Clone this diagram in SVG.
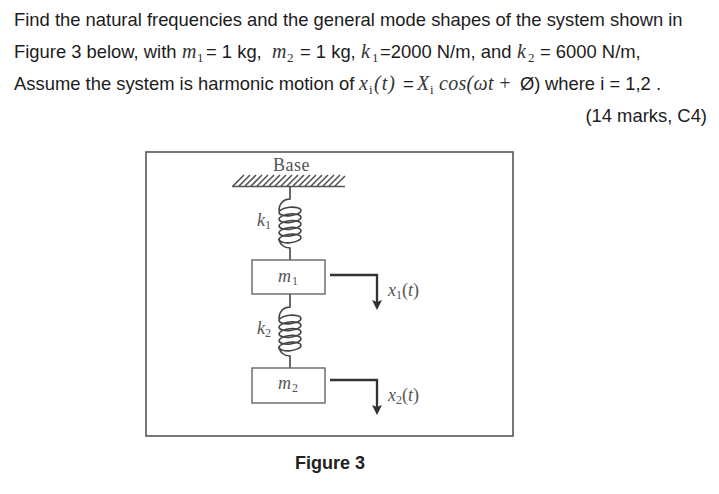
<svg xmlns="http://www.w3.org/2000/svg" width="719" height="494" viewBox="0 0 719 494">
<style>
.t{font-family:"Liberation Sans",Arial,sans-serif;font-size:18.4px;fill:#1c1c1c}
.m{font-family:"Liberation Serif","Times New Roman",serif;font-style:italic;font-size:20px;fill:#333}
.s{font-family:"Liberation Serif","Times New Roman",serif;font-size:13px;fill:#333}
.d{font-family:"Liberation Serif","Times New Roman",serif;fill:#555;font-size:18px}
.di{font-style:italic}
.ds{font-size:12px;font-style:normal}
.ln{fill:none;stroke:#333;stroke-width:2.3}
.box{fill:#fff;stroke:#666;stroke-width:1.4}
.coil{fill:none;stroke:#444;stroke-width:1.6}
.h{stroke:#555;stroke-width:1.6}
</style>
<defs>
<marker id="a" markerUnits="userSpaceOnUse" markerWidth="11" markerHeight="11" refX="5" refY="5" orient="auto"><path d="M0 0L10 5L0 10L2 5Z" fill="#333"/></marker>
<g id="spring"><path class="coil" d="M0 0V13C-6 13 -11 17 -11 25M-11 52C-11 58 -6 62 0 62V74"/>
<g transform="translate(0 25.500) rotate(-6)"><ellipse class="coil" rx="11" ry="4.200"/></g><g transform="translate(0 32.250) rotate(-6)"><ellipse class="coil" rx="11" ry="4.200"/></g><g transform="translate(0 39) rotate(-6)"><ellipse class="coil" rx="11" ry="4.200"/></g><g transform="translate(0 45.750) rotate(-6)"><ellipse class="coil" rx="11" ry="4.200"/></g><g transform="translate(0 52.500) rotate(-6)"><ellipse class="coil" rx="11" ry="4.200"/></g></g>
</defs>
<rect width="719" height="494" fill="#fff"/>
<text class="t" x="14" y="26">Find the natural frequencies and the general mode shapes of the system shown in</text>
<text class="t" x="14" y="58">Figure 3 below, with</text>
<text class="m" x="182" y="58">m</text><text class="s" x="197" y="62">1</text>
<text class="t" x="206" y="58">= 1 kg,</text>
<text class="m" x="272" y="58">m</text><text class="s" x="287" y="62">2</text>
<text class="t" x="300" y="58">= 1 kg,</text>
<text class="m" x="361" y="58">k</text><text class="s" x="372" y="62">1</text>
<text class="t" x="380" y="58">=2000 N/m, and</text>
<text class="m" x="517" y="58">k</text><text class="s" x="528" y="62">2</text>
<text class="t" x="540" y="58">= 6000 N/m,</text>
<text class="t" x="14" y="90">Assume the system is harmonic motion of</text>
<text class="m" x="359" y="90">x</text><text class="s" x="369" y="94">i</text>
<text class="m" x="374" y="90" letter-spacing="1">(t)</text>
<text class="t" x="403" y="90">=</text>
<text class="m" x="417" y="90">X</text><text class="s" x="430" y="94">i</text>
<text class="m" x="439" y="90" letter-spacing=".3">cos(ωt</text>
<text class="m" x="498" y="90" font-style="normal">+</text>
<text class="t" x="520" y="90">Ø)</text>
<text class="t" x="545" y="90" font-size="18">where i = 1,2 .</text>
<text class="t" x="707" y="122" text-anchor="end">(14 marks, C4)</text>
<g id="frame"><rect x="146" y="152" width="367" height="284" fill="#fff" stroke="#555" stroke-width="1.6"/></g>
<g id="base">
<text class="d" x="273" y="171" font-size="15" letter-spacing=".5">Base</text>
<path class="h" d="M232 186.500H345M233 186L244 175M239 186L250 175M245 186L256 175M251 186L262 175M257 186L268 175M263 186L274 175M269 186L280 175M275 186L286 175M281 186L292 175M287 186L298 175M293 186L304 175M299 186L310 175M305 186L316 175M311 186L322 175M317 186L328 175M323 186L334 175M329 186L340 175M335 186L345 176"/>
</g>
<g id="connectors">
<use href="#spring" x="290" y="186"/>
<use href="#spring" x="290" y="294"/>
<path class="ln" d="M330 275H377V305" marker-end="url(#a)"/>
<path class="ln" d="M330 380H377V410" marker-end="url(#a)"/>
</g>
<g id="k1"><text class="d di" x="257" y="226">k</text><text class="d ds" x="265" y="229">1</text></g>
<g id="k2"><text class="d di" x="257" y="334">k</text><text class="d ds" x="265" y="337">2</text></g>
<g id="m1"><rect class="box" x="252" y="260" width="73" height="34"/><text class="d di" x="278" y="282">m</text><text class="d ds" x="292" y="285">1</text></g>
<g id="m2"><rect class="box" x="252" y="368" width="73" height="35"/><text class="d di" x="278" y="389">m</text><text class="d ds" x="292" y="392">2</text></g>
<g id="x1"><text class="d di" x="388" y="296" font-size="17">x</text><text class="d ds" x="396" y="299">1</text><text class="d" x="402" y="296" font-size="17">(<tspan class="di">t</tspan>)</text></g>
<g id="x2"><text class="d di" x="388" y="401" font-size="17">x</text><text class="d ds" x="396" y="404">2</text><text class="d" x="402" y="401" font-size="17">(<tspan class="di">t</tspan>)</text></g>
<text x="295" y="469" font-family="Liberation Sans,Arial,sans-serif" font-weight="700" font-size="18" fill="#222">Figure 3</text>
</svg>
